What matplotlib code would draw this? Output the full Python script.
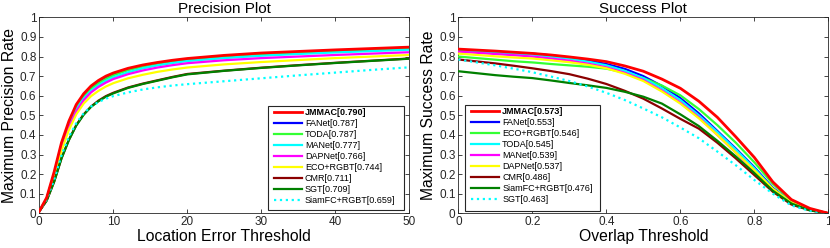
import matplotlib
matplotlib.use("Agg")
import matplotlib.pyplot as plt
from matplotlib.patches import Rectangle

plt.rcParams['font.family'] = ['Liberation Sans', 'DejaVu Sans']

# ---------------- Precision plot data ----------------
prec_x = [0, 1, 2, 3, 4, 5, 6, 7, 8, 9, 10, 12, 14, 16, 18, 20, 25, 30, 35, 40, 45, 50]
prec_labels = ['JMMAC[0.790]', 'FANet[0.787]', 'TODA[0.787]', 'MANet[0.777]', 'DAPNet[0.766]',
               'ECO+RGBT[0.744]', 'CMR[0.711]', 'SGT[0.709]', 'SiamFC+RGBT[0.659]']
prec_jmmac = [0.01, 0.08, 0.21, 0.36, 0.47, 0.555, 0.61, 0.65, 0.678, 0.70, 0.716, 0.74, 0.757, 0.77, 0.781, 0.790, 0.806, 0.818, 0.826, 0.834, 0.841, 0.848]
prec_fanet = [0.01, 0.075, 0.20, 0.35, 0.46, 0.545, 0.60, 0.64, 0.668, 0.69, 0.708, 0.733, 0.752, 0.766, 0.778, 0.787, 0.803, 0.815, 0.823, 0.831, 0.838, 0.845]
prec_toda = [0.01, 0.075, 0.20, 0.345, 0.455, 0.54, 0.595, 0.635, 0.663, 0.686, 0.704, 0.731, 0.75, 0.765, 0.777, 0.787, 0.802, 0.813, 0.821, 0.828, 0.835, 0.840]
prec_manet = [0.01, 0.07, 0.19, 0.335, 0.445, 0.53, 0.585, 0.625, 0.653, 0.676, 0.694, 0.72, 0.74, 0.755, 0.767, 0.777, 0.792, 0.804, 0.813, 0.821, 0.828, 0.835]
prec_dapnet = [0.01, 0.07, 0.19, 0.33, 0.44, 0.52, 0.577, 0.617, 0.645, 0.667, 0.685, 0.71, 0.729, 0.744, 0.756, 0.766, 0.781, 0.792, 0.800, 0.808, 0.815, 0.822]
prec_eco = [0.01, 0.07, 0.18, 0.32, 0.425, 0.505, 0.56, 0.598, 0.625, 0.647, 0.664, 0.689, 0.707, 0.722, 0.734, 0.744, 0.76, 0.772, 0.782, 0.792, 0.800, 0.808]
prec_cmr = [0.01, 0.065, 0.16, 0.28, 0.375, 0.45, 0.505, 0.545, 0.575, 0.598, 0.615, 0.642, 0.662, 0.679, 0.696, 0.711, 0.728, 0.743, 0.756, 0.768, 0.779, 0.790]
prec_sgt = [0.01, 0.065, 0.16, 0.28, 0.373, 0.448, 0.503, 0.543, 0.572, 0.595, 0.612, 0.64, 0.66, 0.677, 0.694, 0.709, 0.727, 0.742, 0.755, 0.767, 0.778, 0.789]
prec_siamfc = [0.01, 0.07, 0.17, 0.295, 0.39, 0.46, 0.51, 0.545, 0.568, 0.585, 0.598, 0.617, 0.632, 0.643, 0.652, 0.659, 0.674, 0.689, 0.704, 0.718, 0.732, 0.745]

# ---------------- Success plot data ----------------
succ_x = [0, 0.05, 0.1, 0.15, 0.2, 0.25, 0.3, 0.35, 0.4, 0.45, 0.5, 0.55, 0.6, 0.65, 0.7, 0.75, 0.8, 0.85, 0.9, 0.95, 1.0]
succ_labels = ['JMMAC[0.573]', 'FANet[0.553]', 'ECO+RGBT[0.546]', 'TODA[0.545]', 'MANet[0.539]',
               'DAPNet[0.537]', 'CMR[0.486]', 'SiamFC+RGBT[0.476]', 'SGT[0.463]']
succ_jmmac = [0.838, 0.833, 0.828, 0.822, 0.816, 0.808, 0.798, 0.787, 0.774, 0.752, 0.725, 0.685, 0.638, 0.572, 0.49, 0.39, 0.285, 0.16, 0.07, 0.025, 0.0]
succ_fanet = [0.830, 0.827, 0.823, 0.819, 0.815, 0.806, 0.795, 0.780, 0.762, 0.737, 0.700, 0.650, 0.588, 0.51, 0.42, 0.33, 0.235, 0.13, 0.055, 0.02, 0.0]
succ_eco = [0.800, 0.792, 0.784, 0.776, 0.770, 0.762, 0.755, 0.748, 0.738, 0.718, 0.690, 0.652, 0.602, 0.532, 0.45, 0.36, 0.26, 0.15, 0.065, 0.022, 0.0]
succ_toda = [0.830, 0.826, 0.821, 0.815, 0.810, 0.800, 0.789, 0.774, 0.755, 0.727, 0.690, 0.638, 0.578, 0.50, 0.415, 0.325, 0.23, 0.125, 0.055, 0.018, 0.0]
succ_manet = [0.825, 0.819, 0.813, 0.807, 0.800, 0.790, 0.779, 0.764, 0.745, 0.717, 0.680, 0.627, 0.565, 0.49, 0.40, 0.31, 0.215, 0.12, 0.05, 0.017, 0.0]
succ_dapnet = [0.815, 0.808, 0.801, 0.795, 0.790, 0.781, 0.771, 0.758, 0.740, 0.712, 0.675, 0.622, 0.560, 0.485, 0.40, 0.31, 0.22, 0.125, 0.055, 0.018, 0.0]
succ_cmr = [0.785, 0.775, 0.765, 0.753, 0.740, 0.726, 0.710, 0.687, 0.660, 0.625, 0.585, 0.535, 0.482, 0.432, 0.36, 0.28, 0.195, 0.11, 0.045, 0.015, 0.0]
succ_siamfc = [0.725, 0.715, 0.705, 0.697, 0.690, 0.678, 0.665, 0.653, 0.640, 0.620, 0.595, 0.560, 0.505, 0.445, 0.37, 0.29, 0.205, 0.115, 0.05, 0.015, 0.0]
succ_sgt = [0.785, 0.770, 0.755, 0.738, 0.720, 0.698, 0.675, 0.647, 0.615, 0.578, 0.535, 0.490, 0.438, 0.383, 0.315, 0.245, 0.17, 0.10, 0.04, 0.012, 0.0]

colors_prec = ['#ff0000', '#0000ff', '#33ff33', '#00ffff', '#ff00ff', '#ffff00', '#8b0000', '#008000', '#00ffff']
colors_succ = ['#ff0000', '#0000ff', '#33ff33', '#00ffff', '#ff00ff', '#ffff00', '#8b0000', '#008000', '#00ffff']
styles = ['-', '-', '-', '-', '-', '-', '-', '-', ':']

prec_series = [prec_jmmac, prec_fanet, prec_toda, prec_manet, prec_dapnet, prec_eco, prec_cmr, prec_sgt, prec_siamfc]
succ_series = [succ_jmmac, succ_fanet, succ_eco, succ_toda, succ_manet, succ_dapnet, succ_cmr, succ_siamfc, succ_sgt]

fig = plt.figure(figsize=(8.3, 2.48), dpi=100)
ax1 = fig.add_axes([0.0473, 0.140, 0.4458, 0.790])
ax2 = fig.add_axes([0.5522, 0.140, 0.4458, 0.790])

axcol = '#262626'


def style_axes(ax):
    for s in ax.spines.values():
        s.set_color(axcol)
        s.set_linewidth(0.6)
    ax.tick_params(direction='in', top=True, right=True, length=3, width=0.6,
                   colors=axcol, labelsize=8.5, pad=2)


for i in range(len(prec_series)):
    lw = 2.0 if i == 0 else 1.6
    ax1.plot(prec_x, prec_series[i], color=colors_prec[i], linestyle=styles[i], lw=lw,
             label=prec_labels[i], zorder=3 + (10 if i == 0 else i))
for i in range(len(succ_series)):
    lw = 2.0 if i == 0 else 1.6
    ax2.plot(succ_x, succ_series[i], color=colors_succ[i], linestyle=styles[i], lw=lw,
             label=succ_labels[i], zorder=3 + (10 if i == 0 else i))

ax1.set_xlim(0, 50)
ax1.set_ylim(0, 1)
ax1.set_xticks([0, 10, 20, 30, 40, 50])
ax1.set_yticks([0, 0.1, 0.2, 0.3, 0.4, 0.5, 0.6, 0.7, 0.8, 0.9, 1])
ax1.set_yticklabels(['0', '0.1', '0.2', '0.3', '0.4', '0.5', '0.6', '0.7', '0.8', '0.9', '1'])
ax1.set_title('Precision Plot', fontsize=11, pad=3)
ax1.set_xlabel('Location Error Threshold', fontsize=11.3, labelpad=1)
ax1.set_ylabel('Maximum Precision Rate', fontsize=11.3, labelpad=2)

ax2.set_xlim(0, 1)
ax2.set_ylim(0, 1)
ax2.set_xticks([0, 0.2, 0.4, 0.6, 0.8, 1])
ax2.set_xticklabels(['0', '0.2', '0.4', '0.6', '0.8', '1'])
ax2.set_yticks([0, 0.1, 0.2, 0.3, 0.4, 0.5, 0.6, 0.7, 0.8, 0.9, 1])
ax2.set_yticklabels(['0', '0.1', '0.2', '0.3', '0.4', '0.5', '0.6', '0.7', '0.8', '0.9', '1'])
ax2.set_title('Success Plot', fontsize=11, pad=3)
ax2.set_xlabel('Overlap Threshold', fontsize=11.3, labelpad=1)
ax2.set_ylabel('Maximum Success Rate', fontsize=11.3, labelpad=2)

for ax in (ax1, ax2):
    style_axes(ax)


def make_legend(ax, box, anchor):
    h, l = ax.get_legend_handles_labels()
    leg = ax.legend(h, l, loc='upper left', bbox_to_anchor=anchor, fontsize=6.5, frameon=False,
                    handlelength=3.1, handletextpad=0.35, borderpad=0.0,
                    labelspacing=0.22, borderaxespad=0)
    leg.get_texts()[0].set_fontweight('bold')
    leg.set_zorder(30)
    x0, y0, x1, y1 = box
    ax.add_patch(Rectangle((x0, y0), x1 - x0, y1 - y0, transform=ax.transAxes,
                           facecolor='white', edgecolor=axcol, lw=0.8, zorder=25))
    return leg


make_legend(ax1, (0.618, 0.017, 0.986, 0.547), (0.634, 0.535))
make_legend(ax2, (0.018, 0.012, 0.383, 0.553), (0.034, 0.540))

fig.savefig('out.png', dpi=100)
